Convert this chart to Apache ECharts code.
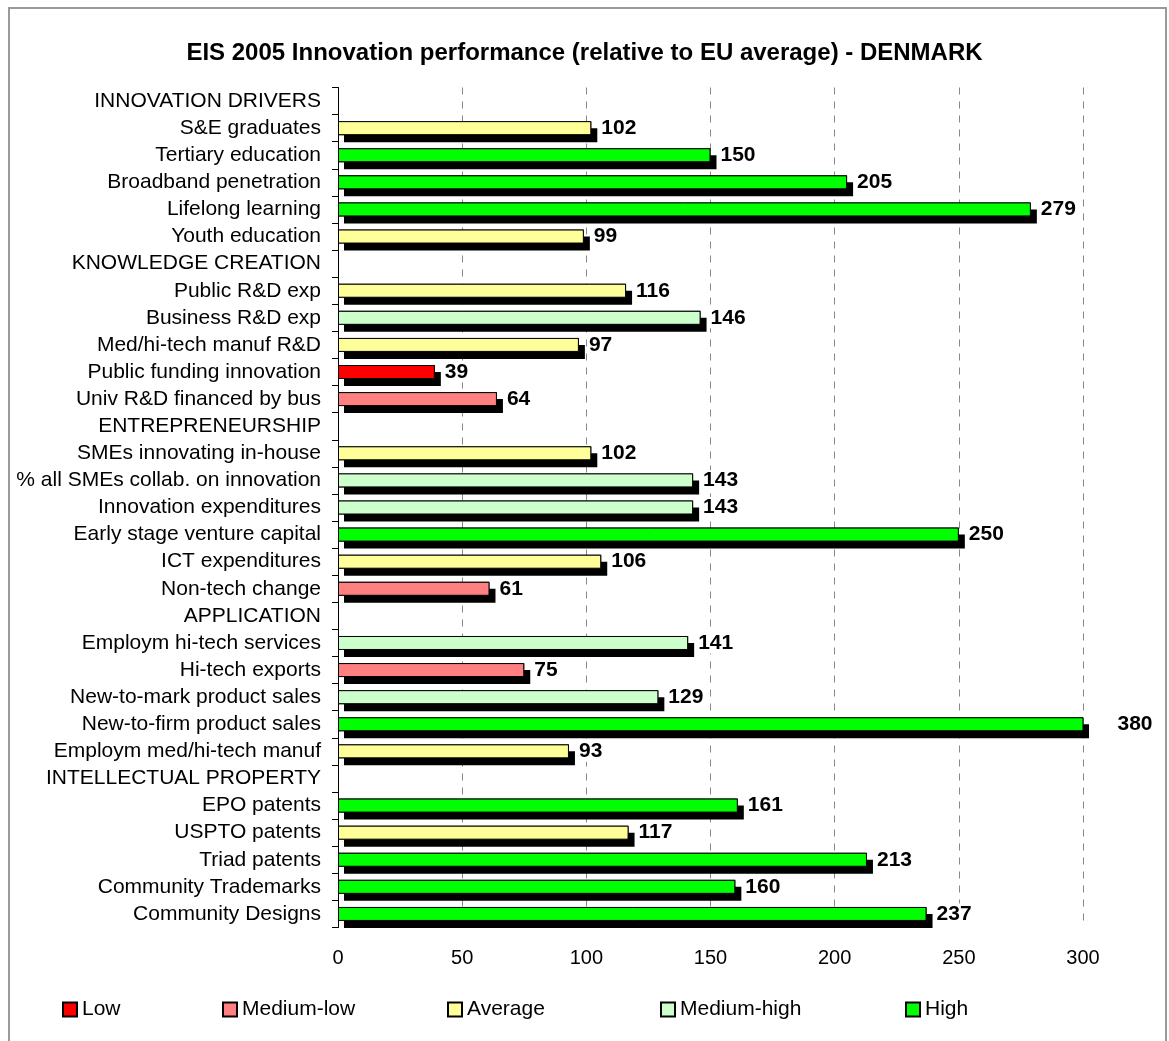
<!DOCTYPE html>
<html>
<head>
<meta charset="utf-8">
<script src="https://cdn.jsdelivr.net/npm/echarts@6/dist/echarts.min.js"></script>
<style>
  html, body { margin: 0; padding: 0; background: #fff; }
  #chart { width: 1169px; height: 1041px; }
</style>
</head>
<body>
<div id="chart"></div>
<script>
const categories = [
  "INNOVATION DRIVERS", "S&E graduates", "Tertiary education", "Broadband penetration",
  "Lifelong learning", "Youth education",
  "KNOWLEDGE CREATION", "Public R&D exp", "Business R&D exp", "Med/hi-tech manuf R&D",
  "Public funding innovation", "Univ R&D financed by bus",
  "ENTREPRENEURSHIP", "SMEs innovating in-house", "% all SMEs collab. on innovation",
  "Innovation expenditures", "Early stage venture capital", "ICT expenditures", "Non-tech change",
  "APPLICATION", "Employm hi-tech services", "Hi-tech exports", "New-to-mark product sales",
  "New-to-firm product sales", "Employm med/hi-tech manuf",
  "INTELLECTUAL PROPERTY", "EPO patents", "USPTO patents", "Triad patents",
  "Community Trademarks", "Community Designs"
];
const values = [
  null, 102, 150, 205, 279, 99,
  null, 116, 146, 97, 39, 64,
  null, 102, 143, 143, 250, 106, 61,
  null, 141, 75, 129, 380, 93,
  null, 161, 117, 213, 160, 237
];
const levels = [
  null, "Average", "High", "High", "High", "Average",
  null, "Average", "Medium-high", "Average", "Low", "Medium-low",
  null, "Average", "Medium-high", "Medium-high", "High", "Average", "Medium-low",
  null, "Medium-high", "Medium-low", "Medium-high", "High", "Average",
  null, "High", "Average", "High", "High", "High"
];
const levelNames = ["Low", "Medium-low", "Average", "Medium-high", "High"];
const levelColors = ["#ff0000", "#ff8080", "#ffff99", "#ccffcc", "#00ff00"];
const xTicks = [0, 50, 100, 150, 200, 250, 300];

const xMax = xTicks[xTicks.length - 1];
const FONT = "Liberation Sans";
const chart = echarts.init(document.getElementById("chart"));

// black "3d" shadow behind every bar
const shadowSeries = {
  name: "shadow",
  type: "bar",
  barWidth: 14,
  barGap: "-100%",
  clip: true,
  silent: true,
  itemStyle: {
    color: "#000",
    shadowColor: "#000",
    shadowBlur: 0,
    shadowOffsetX: 6,
    shadowOffsetY: 7
  },
  data: values.map(v => (v == null ? "-" : v))
};

const series = [shadowSeries].concat(levelNames.map((name, k) => ({
  name: name,
  type: "bar",
  barWidth: 14,
  barGap: "-100%",
  clip: true,
  itemStyle: {
    color: levelColors[k],
    borderColor: "#000",
    borderWidth: 1
  },
  label: {
    show: true,
    position: "right",
    distance: 9,
    color: "#000",
    fontWeight: "bold",
    fontSize: 21,
    fontFamily: FONT,
    backgroundColor: "#fff",
    padding: [0, 1]
  },
  data: values.map((v, i) => {
    if (levels[i] !== name) return "-";
    if (v > xMax) return { value: v, label: { offset: [24, 0] } };
    return v;
  })
})));

const legendLefts = [62, 222, 447, 660, 905];

chart.setOption({
  animation: false,
  textStyle: { fontFamily: FONT },
  graphic: [{
    type: "rect",
    shape: { x: 9, y: 8, width: 1157, height: 1045 },
    style: { fill: null, stroke: "#9a9a9a", lineWidth: 2 },
    silent: true
  }],
  title: {
    text: "EIS 2005 Innovation performance (relative to EU average) - DENMARK",
    left: "center",
    top: 36,
    textStyle: { fontSize: 24, fontWeight: "bold", color: "#000", fontFamily: FONT }
  },
  legend: levelNames.map((name, k) => ({
    data: [name],
    left: legendLefts[k],
    top: 999,
    padding: 0,
    itemWidth: 14,
    itemHeight: 14,
    icon: "rect",
    itemStyle: { borderColor: "#000", borderWidth: 2 },
    textStyle: { fontSize: 21, color: "#000", fontFamily: FONT },
    selectedMode: false
  })),
  grid: {
    left: 338,
    right: 86,
    top: 87.5,
    bottom: 113.5,
    containLabel: false
  },
  xAxis: {
    type: "value",
    min: xTicks[0],
    max: xMax,
    interval: xTicks[1] - xTicks[0],
    axisLine: { show: false },
    axisTick: { show: false },
    axisLabel: { fontSize: 20, color: "#000", margin: 21, fontFamily: FONT },
    splitLine: { lineStyle: { color: "#888", type: [7, 7], width: 1 } }
  },
  yAxis: {
    type: "category",
    inverse: true,
    data: categories,
    axisLine: { show: true, lineStyle: { color: "#000", width: 1 } },
    axisTick: { show: true, interval: 0, length: 6, lineStyle: { color: "#000" } },
    axisLabel: { interval: 0, fontSize: 21, color: "#000", margin: 17, fontFamily: FONT },
    splitLine: { show: false }
  },
  series: series
});
</script>
</body>
</html>
